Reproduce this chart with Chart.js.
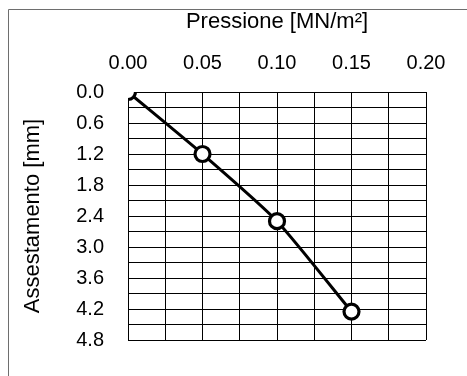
<!DOCTYPE html>
<html>
<head>
<meta charset="utf-8">
<script src="https://cdn.jsdelivr.net/npm/chart.js@4"></script>
<style>
  html, body { margin: 0; padding: 0; background: #fff; }
  #wrap { width: 467px; height: 376px; }
</style>
</head>
<body>
<div id="wrap"><canvas id="chart" width="467" height="376"></canvas></div>
<script>
// ── Dati: prova di carico ────────────────────────────────────────────────
const PRESSIONE     = [0.00, 0.05, 0.10, 0.15]   // MN/m²
const ASSESTAMENTO  = [0.0, 1.2, 2.5, 4.25]       // mm

const X_LABEL_STEP = 0.05
const Y_LABEL_STEP = 0.6

const FONT = "'Liberation Sans', Arial, sans-serif"

// cornice grigia come nel foglio originale
const framePlugin = {
  id: "frame",
  beforeDraw(chart) {
    const ctx = chart.ctx
    ctx.save()
    ctx.strokeStyle = "#6e6e6e"
    ctx.lineWidth = 1
    ctx.beginPath()
    ctx.moveTo(8.5, chart.height)
    ctx.lineTo(8.5, 9.5)
    ctx.lineTo(chart.width, 9.5)
    ctx.stroke()
    ctx.restore()
  }
}

const onlyEvery = (step, digits) => v => {
  const k = v / step
  return Math.abs(k - Math.round(k)) < 1e-6 ? Number(v).toFixed(digits) : ""
}

new Chart(document.getElementById("chart"), {
  type: "line",
  data: {
    datasets: [{
      data: PRESSIONE.map((p, i) => ({ x: p, y: ASSESTAMENTO[i] })),
      borderColor: "#000",
      borderWidth: 3,
      tension: 0.2,
      pointRadius: 7.5,
      pointBorderWidth: 3.2,
      pointBorderColor: "#000",
      pointBackgroundColor: "#fff"
    }]
  },
  options: {
    responsive: false,
    animation: false,
    layout: { padding: { left: 0, top: 0, right: 41, bottom: 31 } },
    plugins: { legend: { display: false }, tooltip: { enabled: false } },
    scales: {
      x: {
        type: "linear",
        position: "top",
        min: 0,
        max: 0.2,
        afterFit: s => { s.height = 92 },
        grid: { color: "#000", lineWidth: 1, drawTicks: false },
        border: { color: "#000" },
        ticks: {
          stepSize: 0.025,
          autoSkip: false,
          maxRotation: 0,
          padding: 17,
          color: "#000",
          font: { family: FONT, size: 20 },
          callback: onlyEvery(X_LABEL_STEP, 2)
        },
        title: {
          display: true,
          text: "Pressione [MN/m²]",
          color: "#000",
          font: { family: FONT, size: 22 },
          padding: { top: 9, bottom: 0 }
        }
      },
      y: {
        type: "linear",
        reverse: true,
        min: 0,
        max: 4.8,
        afterFit: s => { s.width = 128 },
        grid: { color: "#000", lineWidth: 1, drawTicks: false },
        border: { color: "#000" },
        ticks: {
          stepSize: 0.3,
          autoSkip: false,
          padding: 24,
          color: "#000",
          font: { family: FONT, size: 20 },
          callback: onlyEvery(Y_LABEL_STEP, 1)
        },
        title: {
          display: true,
          text: "Assestamento [mm]",
          color: "#000",
          font: { family: FONT, size: 22 },
          padding: { top: 20, bottom: 0 }
        }
      }
    }
  },
  plugins: [framePlugin]
})
</script>
</body>
</html>
